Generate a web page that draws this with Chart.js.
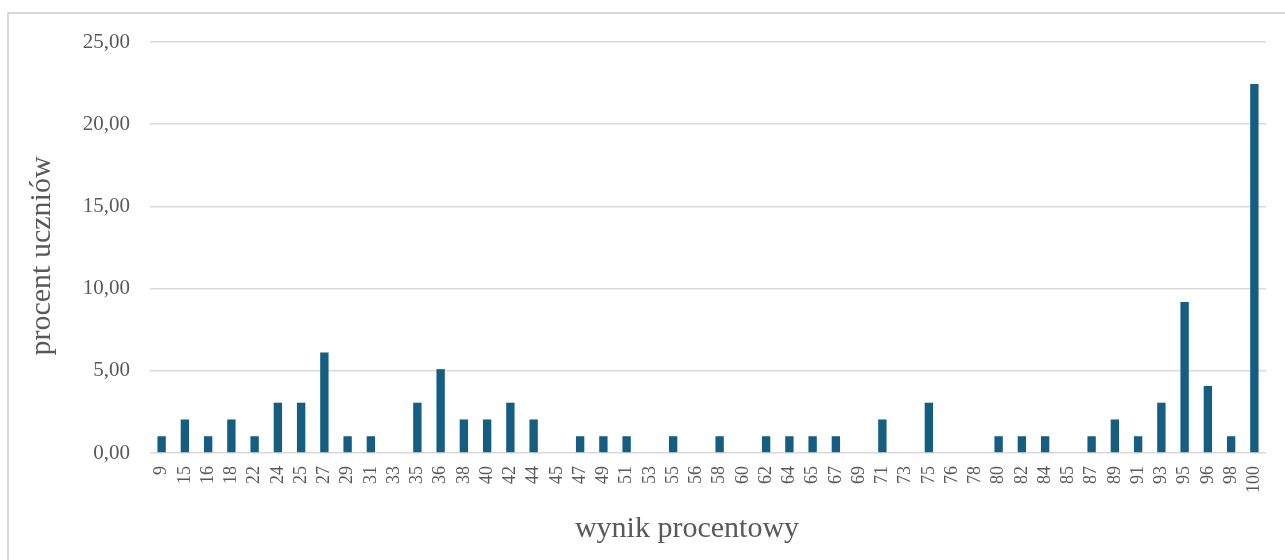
<!DOCTYPE html>
<html>
<head>
<meta charset="utf-8">
<script src="https://cdn.jsdelivr.net/npm/chart.js@4/dist/chart.umd.min.js"></script>
<style>
    body { margin: 0; background: #fff; overflow: hidden; }
    #frame { position: absolute; left: 7px; top: 12px; width: 1300px; height: 600px; border: 2px solid #d9d9d9; }
    #wrap { position: absolute; left: 0; top: 0; width: 1285px; height: 560px; }
</style>
</head>
<body>
<div id="frame"></div>
<div id="wrap"><canvas id="chart"></canvas></div>
<script>
// wynik procentowy (categories)
const scores = ['9', '15', '16', '18', '22', '24', '25', '27', '29', '31', '33', '35', '36', '38', '40', '42',
    '44', '45', '47', '49', '51', '53', '55', '56', '58', '60', '62', '64', '65', '67', '69', '71',
    '73', '75', '76', '78', '80', '82', '84', '85', '87', '89', '91', '93', '95', '96', '98', '100'];

// procent uczniów
const percents = [1.02, 2.04, 1.02, 2.04, 1.02, 3.06, 3.06, 6.12, 1.02, 1.02, 0, 3.06, 5.10, 2.04, 2.04, 3.06,
    2.04, 0, 1.02, 1.02, 1.02, 0, 1.02, 0, 1.02, 0, 1.02, 1.02, 1.02, 1.02, 0, 2.04,
    0, 3.06, 0, 0, 1.02, 1.02, 1.02, 0, 1.02, 2.04, 1.02, 3.06, 9.18, 4.08, 1.02, 22.45];

const yTicks = [0, 5, 10, 15, 20, 25];

const textColor = '#595959';
const serif = "'Liberation Serif', 'DejaVu Serif', serif";

// axis titles sit a little off the plot centre in the original, so draw them by hand
const axisTitles = {
    id: 'axisTitles',
    afterDraw(chart) {
        const ctx = chart.ctx;
        ctx.save();
        ctx.fillStyle = textColor;
        ctx.font = `30px ${serif}`;
        ctx.textAlign = 'center';
        ctx.textBaseline = 'middle';
        ctx.fillText('wynik procentowy', 687, 529);
        ctx.translate(42, 256);
        ctx.rotate(-Math.PI / 2);
        ctx.fillText('procent uczniów', 0, 0);
        ctx.restore();
    }
};

new Chart(document.getElementById('chart'), {
    type: 'bar',
    data: {
        labels: scores,
        datasets: [{
            data: percents,
            backgroundColor: '#165e81',
            barPercentage: 0.36,
            categoryPercentage: 1.0
        }]
    },
    options: {
        responsive: true,
        maintainAspectRatio: false,
        animation: false,
        layout: { padding: { top: 42, right: 19, left: 0, bottom: 0 } },
        plugins: { legend: { display: false }, tooltip: { enabled: false } },
        scales: {
            x: {
                grid: { display: false },
                border: { display: false },
                ticks: {
                    autoSkip: false, minRotation: 90, maxRotation: 90, padding: 5,
                    color: textColor, font: { family: serif, size: 18 }
                },
                afterFit: (scale) => { scale.height = 107; }
            },
            y: {
                min: 0, max: 25,
                afterBuildTicks: (scale) => { scale.ticks = yTicks.map(v => ({ value: v })); },
                grid: { color: '#d9d9d9', lineWidth: 1.5, drawTicks: false },
                border: { display: false },
                ticks: {
                    padding: 20, color: textColor, font: { family: serif, size: 21 },
                    callback: (v) => v.toFixed(2).replace('.', ',')
                },
                afterFit: (scale) => { scale.width = 150; }
            }
        }
    },
    plugins: [axisTitles]
});
</script>
</body>
</html>
